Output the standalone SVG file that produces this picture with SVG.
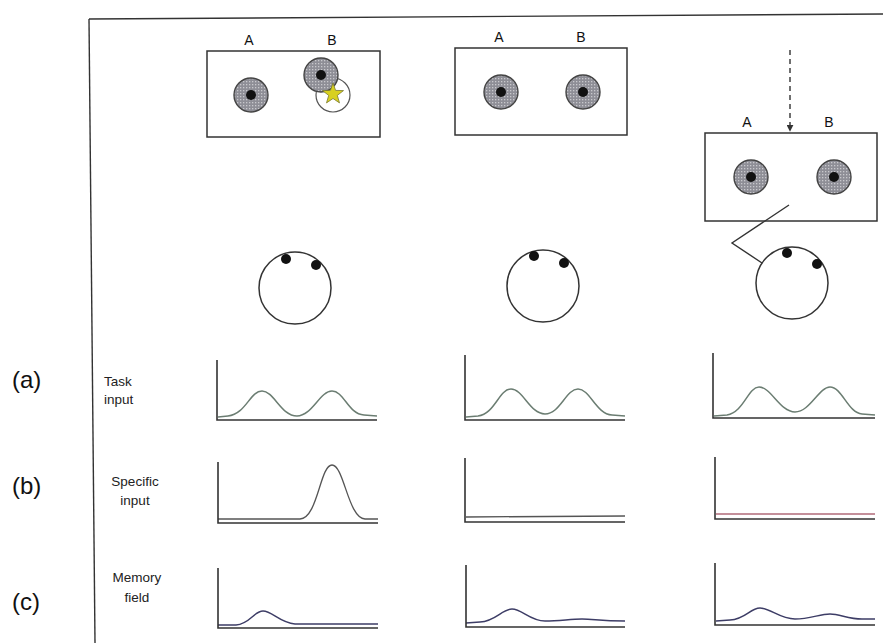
<svg xmlns="http://www.w3.org/2000/svg" width="883" height="643" viewBox="0 0 883 643">
<defs>
<pattern id="dots" width="3" height="3" patternUnits="userSpaceOnUse">
<rect width="3" height="3" fill="#8e8e96"/>
<rect x="0" y="0" width="1.3" height="1.3" fill="#c8c8cc"/>
</pattern>
<marker id="ah" viewBox="0 0 10 10" refX="9" refY="5" markerWidth="5" markerHeight="5" orient="auto">
<path d="M0,0 L10,5 L0,10 z" fill="#333"/>
</marker>
</defs>
<style>
.box{fill:#fff;stroke:#333;stroke-width:1.5}
.lbl{font-family:"Liberation Sans",Arial,sans-serif;font-size:14px;fill:#111}
.side{font-family:"Liberation Sans",Arial,sans-serif;font-size:13.5px;fill:#222}
.big{font-family:"Liberation Sans",Arial,sans-serif;font-size:24px;fill:#111}
.well{fill:url(#dots);stroke:#444;stroke-width:1.4}
.cue{fill:#111}
.ring{fill:#fff;stroke:#333;stroke-width:1.5}
.axis{fill:none;stroke:#333;stroke-width:1.6}
.task{fill:none;stroke:#6b7d72;stroke-width:1.5}
.spec{fill:none;stroke:#555;stroke-width:1.3}
.mem{fill:none;stroke:#3d3d66;stroke-width:1.5}
.conn{fill:none;stroke:#333;stroke-width:1.4}
</style>
<rect width="883" height="643" fill="#fff"/>
<g id="frame">
<path d="M89,19 L883,14" class="conn"/>
<path d="M89,19 L95,643" class="conn"/>
</g>
<g id="row-labels">
<text class="big" x="12" y="388">(a)</text>
<text class="big" x="12" y="494">(b)</text>
<text class="big" x="12" y="610">(c)</text>
<text class="side" x="104" y="386">Task</text>
<text class="side" x="104" y="404">input</text>
<text class="side" x="135" y="486" text-anchor="middle">Specific</text>
<text class="side" x="135" y="505" text-anchor="middle">input</text>
<text class="side" x="137" y="582" text-anchor="middle">Memory</text>
<text class="side" x="137" y="602" text-anchor="middle">field</text>
</g>
<g id="panel1">
<text class="lbl" x="249" y="45" text-anchor="middle">A</text>
<text class="lbl" x="332" y="45" text-anchor="middle">B</text>
<rect class="box" x="207" y="51" width="173" height="86"/>
<circle class="well" cx="251" cy="95" r="17"/>
<circle class="cue" cx="251" cy="95" r="5"/>
<circle cx="333" cy="95" r="17" fill="#fff" stroke="#555" stroke-width="1.2"/>
<circle class="well" cx="321" cy="75" r="17"/>
<circle class="cue" cx="321" cy="75" r="5"/>
<polygon points="333,83 335.6,90.4 343.5,90.6 337.3,95.4 339.5,102.9 333,98.5 326.5,102.9 328.7,95.4 322.5,90.6 330.4,90.4" fill="#d8d020" stroke="#7a7a30" stroke-width="0.8"/>
</g>
<g id="panel2">
<text class="lbl" x="499" y="42" text-anchor="middle">A</text>
<text class="lbl" x="581" y="42" text-anchor="middle">B</text>
<rect class="box" x="455" y="48" width="172" height="87"/>
<circle class="well" cx="501" cy="92" r="17"/>
<circle class="cue" cx="501" cy="92" r="5"/>
<circle class="well" cx="583" cy="92" r="17"/>
<circle class="cue" cx="583" cy="92" r="5"/>
</g>
<g id="panel3">
<text class="lbl" x="747" y="127" text-anchor="middle">A</text>
<text class="lbl" x="829" y="127" text-anchor="middle">B</text>
<rect class="box" x="705" y="133" width="172" height="88"/>
<circle class="well" cx="751" cy="177" r="17"/>
<circle class="cue" cx="751" cy="177" r="5"/>
<circle class="well" cx="834" cy="177" r="17"/>
<circle class="cue" cx="834" cy="177" r="5"/>
</g>
<g id="ring1">
<circle class="ring" cx="295" cy="288" r="36"/>
<circle class="cue" cx="286" cy="259" r="5"/>
<circle class="cue" cx="316" cy="265" r="5"/>
</g>
<g id="ring2">
<circle class="ring" cx="543" cy="286" r="36"/>
<circle class="cue" cx="534" cy="256" r="5"/>
<circle class="cue" cx="564" cy="263" r="5"/>
</g>
<g id="ring3">
<circle class="ring" cx="792" cy="283" r="36"/>
<circle class="cue" cx="787" cy="253" r="5"/>
<circle class="cue" cx="817" cy="264" r="5"/>
</g>
<g id="connectors">
<path d="M790,50 L790,131" class="conn" stroke-dasharray="5,4" marker-end="url(#ah)"/>
<path d="M789,205 L732,243 L762,263" class="conn"/>
</g>
<g id="graph-a1">
<path class="task" d="M218,417 L228,416 C246,414 250,391 262,391 C274,391 281,416 297,416 C312,416 320,391 332,391 C344,391 348,414 364,415 L377,416"/>
<path class="axis" d="M217,360 L217,420 L377,420"/>
</g>
<g id="graph-b1">
<path class="spec" d="M218,519 L300,519 C318,518 320,465 332,465 C344,465 348,518 365,519 L378,519"/>
<path class="axis" d="M218,462 L218,523 L378,523"/>
</g>
<g id="graph-c1">
<path class="mem" d="M218,625 L236,625 C250,624 254,611 263,611 C272,611 280,623 295,624 L378,624"/>
<path class="axis" d="M218,568 L218,628 L378,628"/>
</g>
<g id="graph-a2">
<path class="task" d="M466,417 L478,416 C495,414 499,389 511,389 C523,389 530,414 545,414 C560,414 566,389 578,389 C590,389 596,414 612,415 L625,416"/>
<path class="axis" d="M465,355 L465,420 L625,420"/>
</g>
<g id="graph-b2">
<path class="spec" d="M466,517 L625,516"/>
<path class="axis" d="M465,458 L465,522 L625,522"/>
</g>
<g id="graph-c2">
<path class="mem" d="M466,623 L480,622 C496,621 502,609 512,609 C522,609 530,621 545,621 C560,621 570,619 582,619 C594,619 600,621 625,621"/>
<path class="axis" d="M466,565 L466,627 L625,627"/>
</g>
<g id="graph-a3">
<path class="task" d="M714,416 L727,415 C744,412 748,387 759,387 C771,387 780,412 795,412 C810,412 819,387 830,387 C842,387 848,413 862,414 L875,415"/>
<path class="axis" d="M713,353 L713,418 L875,418"/>
</g>
<g id="graph-b3">
<path class="spec" d="M716,514 L875,514" style="stroke:#b06a78"/>
<path class="axis" d="M715,457 L715,519 L875,519"/>
</g>
<g id="graph-c3">
<path class="mem" d="M716,621 L730,620 C746,619 750,608 760,608 C770,608 780,619 795,619 C810,619 820,614 830,614 C840,614 848,619 862,619 L875,619"/>
<path class="axis" d="M715,563 L715,625 L875,625"/>
</g>
</svg>
